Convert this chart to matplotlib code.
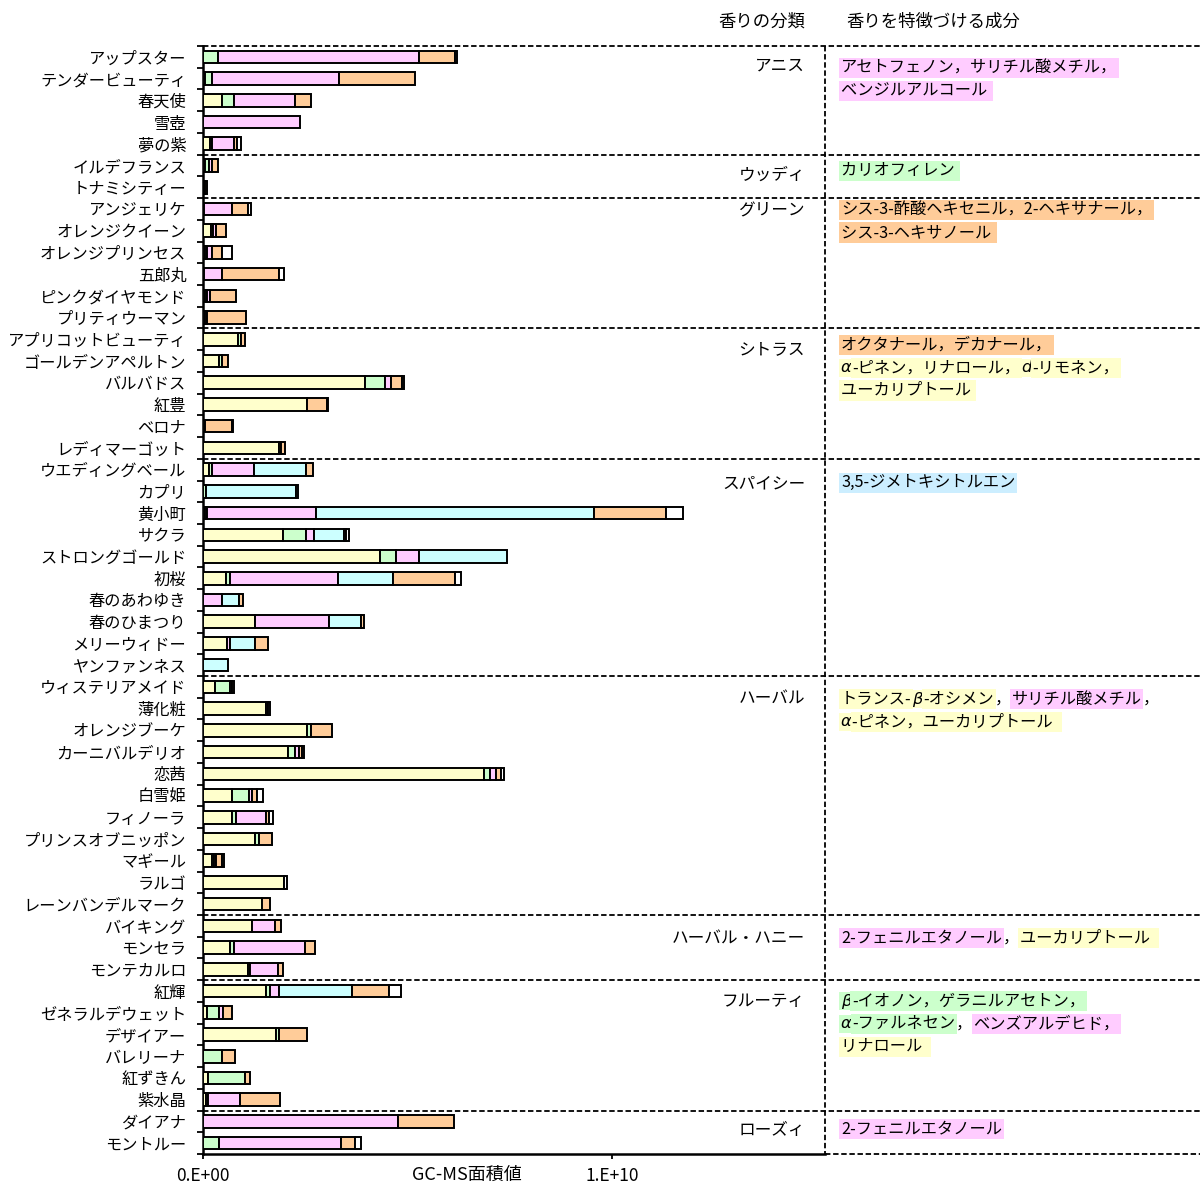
import numpy as np
import matplotlib
matplotlib.use("Agg")
import matplotlib.pyplot as plt
from matplotlib.transforms import blended_transform_factory

FONT = ["Noto Sans CJK JP", "DejaVu Sans"]
plt.rcParams["font.family"] = FONT

# ---------------- data (GC-MS area, units of 1e9) ----------------
varieties = ["アップスター", "テンダービューティ", "春天使", "雪壺", "夢の紫",
             "イルデフランス", "トナミシティー",
             "アンジェリケ", "オレンジクイーン", "オレンジプリンセス", "五郎丸", "ピンクダイヤモンド", "プリティウーマン",
             "アプリコットビューティ", "ゴールデンアペルトン", "バルバドス", "紅豊", "ベロナ", "レディマーゴット",
             "ウエディングベール", "カプリ", "黄小町", "サクラ", "ストロングゴールド", "初桜", "春のあわゆき",
             "春のひまつり", "メリーウィドー", "ヤンファンネス",
             "ウィステリアメイド", "薄化粧", "オレンジブーケ", "カーニバルデリオ", "恋茜", "白雪姫", "フィノーラ",
             "プリンスオブニッポン", "マギール", "ラルゴ", "レーンバンデルマーク",
             "バイキング", "モンセラ", "モンテカルロ",
             "紅輝", "ゼネラルデウェット", "デザイアー", "バレリーナ", "紅ずきん", "紫水晶",
             "ダイアナ", "モントルー"]

yellow_vals = [0, 0.05, 0.47, 0, 0.18,
               0.05, 0.03,
               0.02, 0.20, 0.05, 0.02, 0.05, 0.05,
               0.86, 0.38, 3.95, 2.54, 0, 1.87,
               0.15, 0, 0.05, 1.96, 4.32, 0.56, 0, 1.26, 0.59, 0,
               0.30, 1.55, 2.55, 2.08, 6.86, 0.71, 0.72, 1.26, 0.21, 1.99, 1.44,
               1.21, 0.65, 1.10,
               1.55, 0.11, 1.79, 0, 0.13, 0.08,
               0, 0]
green_vals = [0.36, 0.16, 0.30, 0, 0.05,
              0.10, 0.03,
              0, 0.05, 0.05, 0, 0.05, 0,
              0.07, 0.08, 0.51, 0, 0.06, 0.04,
              0.06, 0.08, 0.06, 0.56, 0.41, 0.09, 0, 0, 0, 0,
              0.35, 0, 0.10, 0.17, 0.15, 0.42, 0.08, 0.11, 0.06, 0, 0,
              0, 0.12, 0.04,
              0.08, 0.28, 0.08, 0.46, 0.89, 0.05,
              0, 0.39]
pink_vals = [4.92, 3.12, 1.49, 2.38, 0.54,
             0.08, 0,
             0.70, 0.07, 0.13, 0.45, 0.06, 0.06,
             0, 0, 0.14, 0, 0, 0,
             1.03, 0, 2.66, 0.20, 0.54, 2.65, 0.46, 1.83, 0.07, 0,
             0.06, 0, 0, 0.09, 0.15, 0.08, 0.74, 0, 0.06, 0, 0,
             0.55, 1.73, 0.69,
             0.24, 0.11, 0, 0, 0, 0.77,
             4.76, 2.98]
cyan_vals = [0, 0, 0, 0, 0,
             0, 0,
             0, 0, 0, 0, 0, 0,
             0, 0, 0, 0, 0, 0,
             1.28, 2.20, 6.79, 0.72, 2.17, 1.35, 0.41, 0.77, 0.60, 0.62,
             0, 0, 0, 0, 0, 0, 0, 0, 0, 0, 0,
             0, 0, 0,
             1.78, 0, 0, 0, 0, 0,
             0, 0]
orange_vals = [0.87, 1.85, 0.38, 0, 0.07,
               0.14, 0.03,
               0.37, 0.25, 0.24, 1.40, 0.64, 0.93,
               0.09, 0.14, 0.26, 0.48, 0.64, 0.10,
               0.16, 0, 1.76, 0.06, 0, 1.50, 0.12, 0.07, 0.33, 0,
               0.06, 0.05, 0.50, 0.07, 0.13, 0.10, 0.07, 0.31, 0.14, 0, 0.19,
               0.15, 0.23, 0.13,
               0.89, 0.21, 0.67, 0.33, 0.12, 0.99,
               1.37, 0.35]
white_vals = [0.06, 0, 0, 0, 0.10,
              0, 0,
              0.09, 0, 0.24, 0.11, 0, 0,
              0, 0, 0.06, 0.04, 0.03, 0,
              0, 0.04, 0.42, 0.06, 0, 0.16, 0, 0, 0, 0,
              0, 0.05, 0, 0.07, 0.06, 0.16, 0.10, 0, 0.05, 0.06, 0,
              0, 0, 0,
              0.30, 0, 0, 0, 0, 0,
              0, 0.15]

groups = ["アニス", "ウッディ", "グリーン", "シトラス", "スパイシー",
          "ハーバル", "ハーバル・ハニー", "フルーティ", "ローズィ"]
group_sizes = [5, 2, 6, 6, 10, 11, 3, 6, 2]

# components per group: list of lines, each line list of (text, highlight)
components = [
    [[("アセトフェノン，サリチル酸メチル，", "pink")], [("ベンジルアルコール ", "pink")]],
    [[("カリオフィレン ", "green")]],
    [[("シス-3-酢酸ヘキセニル，2-ヘキサナール，", "orange")], [("シス-3-ヘキサノール ", "orange")]],
    [[("オクタナール，デカナール，", "orange")],
     [("α", "yellow", "it"), ("-ピネン，リナロール，", "yellow"), ("d", "yellow", "it"), ("-リモネン，", "yellow")],
     [("ユーカリプトール ", "yellow")]],
    [[("3,5-ジメトキシトルエン", "blue")]],
    [[("トランス-", "yellow"), ("β", "yellow", "it"), ("-オシメン", "yellow"), ("，", None), ("サリチル酸メチル", "pink"), ("，", None)],
     [("α", "yellow", "it"), ("-ピネン，ユーカリプトール  ", "yellow")]],
    [[("2-フェニルエタノール", "pink"), ("，", None), ("ユーカリプトール  ", "yellow")]],
    [[("β", "green", "it"), ("-イオノン，ゲラニルアセトン，", "green")],
     [("α", "green", "it"), ("-ファルネセン", "green"), ("，", None), ("ベンズアルデヒド，", "pink")],
     [("リナロール  ", "yellow")]],
    [[("2-フェニルエタノール", "pink")]],
]

# ---------------- style ----------------
series = [yellow_vals, green_vals, pink_vals, cyan_vals, orange_vals, white_vals]
colors = ["#FFFFCC", "#CCFFCC", "#FFCCFF", "#CCFFFF", "#FFCC99", "#FFFFFF"]
HL = {"pink": "#FFCCFF", "green": "#CCFFCC", "orange": "#FFCC99",
      "yellow": "#FFFFCC", "blue": "#CCEEFF"}

W, H = 1200, 1185
fig = plt.figure(figsize=(W / 100, H / 100), dpi=100)
x0, x1, ytop, ybot = 203, 825, 46, 1154
ax = fig.add_axes([x0 / W, 1 - ybot / H, (x1 - x0) / W, (ybot - ytop) / H])

n = len(varieties)
ypos = np.arange(n)
left = np.zeros(n)
for vals, c in zip(series, colors):
    v = np.asarray(vals, dtype=float) * 1e9
    m = v > 0
    ax.barh(ypos[m], v[m], left=left[m], height=0.58, color=c,
            edgecolor="black", linewidth=1.4, zorder=3)
    left += v

px_per_unit = 40.9  # pixels per 1e9
ax.set_xlim(0, (x1 - x0) / px_per_unit * 1e9)
ax.set_ylim(n - 0.5, -0.5)

ax.set_yticks(ypos)
ax.set_yticklabels(varieties, fontsize=11.7)
ax.set_yticks(np.arange(-0.5, n, 1), minor=True)
ax.tick_params(axis="y", which="major", length=0, pad=12)
ax.tick_params(axis="y", which="minor", length=4.5, width=1.3, direction="out")
ax.set_xticks([0, 1e10])
ax.set_xticklabels(["0.E+00", "1.E+10"], fontsize=12.5)
ax.tick_params(axis="x", length=3.5, width=1.3, direction="out", pad=6)
ax.set_xlabel("GC-MS面積値", fontsize=13)
ax.xaxis.set_label_coords((467 - x0) / (x1 - x0), -0.0105)
ax.xaxis.label.set_va("top")

for s in ["top", "right"]:
    ax.spines[s].set_visible(False)
for s in ["left", "bottom"]:
    ax.spines[s].set_linewidth(1.8)

# separators
ext = (W - x0) / (x1 - x0)
tr = blended_transform_factory(ax.transAxes, ax.transData)
dash = (0, (3, 1.5))
bounds = np.cumsum(group_sizes)[:-1] - 0.5
for b in [-0.5] + list(bounds):
    ax.plot([0, ext], [b, b], transform=tr, color="black", lw=1.3,
            linestyle=dash, clip_on=False, zorder=4)
ax.plot([1, ext], [n - 0.5, n - 0.5], transform=tr, color="black", lw=1.3,
        linestyle=dash, clip_on=False, zorder=4)
ax.plot([1, 1], [-0.5, n - 0.5], transform=tr, color="black", lw=1.3,
        linestyle=dash, clip_on=False, zorder=4)

# group labels
label_offsets = [0.91, 0.93, 0.59, 0.99, 1.16, 1.06, 1.11, 0.96, 0.90]
comp_offsets = [1.01, 0.75, 0.54, 0.76, 1.11, 1.06, 1.06, 0.96, 0.86]
starts = np.concatenate([[0], np.cumsum(group_sizes)[:-1]]) - 0.5
for g, st, lo in zip(groups, starts, label_offsets):
    ax.text((805 - x0) / (x1 - x0), st + lo, g, transform=tr, ha="right",
            va="center", fontsize=12)

# component column
ax2 = fig.add_axes([x1 / W, 1 - ybot / H, (W - x1) / W, (ybot - ytop) / H])
ax2.set_xlim(0, W - x1)
ax2.set_ylim(n - 0.5, -0.5)
ax2.axis("off")


def draw_pieces(axis, x, y, pieces):
    prev = None
    for p in pieces:
        text, key = p[0], p[1]
        italic = len(p) > 2
        kw = dict(fontsize=11.7, va="center", ha="left")
        if italic:
            kw["family"] = ["DejaVu Sans"]
            kw["style"] = "italic"
        if key:
            kw["bbox"] = dict(boxstyle="square,pad=0.1", fc=HL[key], ec="none")
        if prev is None:
            prev = axis.text(x, y, text, **kw)
        else:
            prev = axis.annotate(text, xy=(1, 0.5), xycoords=prev,
                                 xytext=(0.5, 0), textcoords="offset points", **kw)


for lines, st, co in zip(components, starts, comp_offsets):
    for i, line in enumerate(lines):
        draw_pieces(ax2, 16, st + co + i * 1.05, line)

fig.text(762 / W, 1 - 22 / H, "香りの分類", ha="center", va="center", fontsize=12.5)
fig.text(933 / W, 1 - 22 / H, "香りを特徴づける成分", ha="center", va="center", fontsize=12.5)

fig.savefig("out.png", dpi=100)
